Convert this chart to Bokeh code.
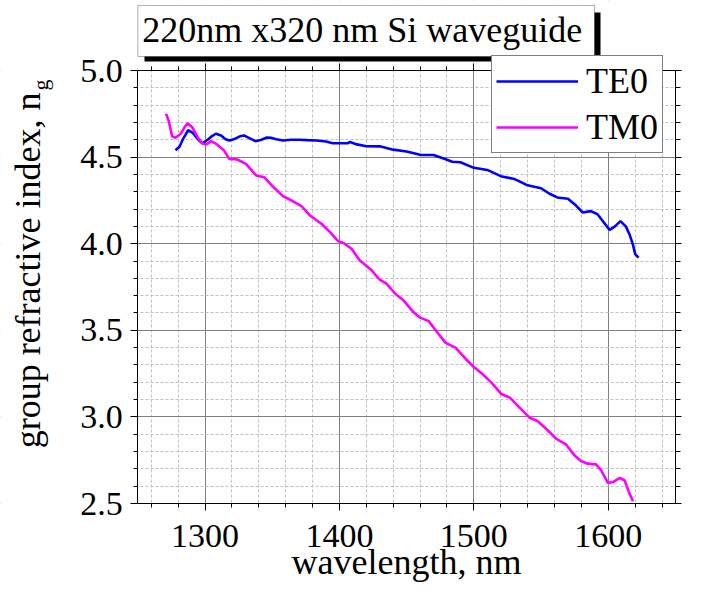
import math
from bokeh.plotting import figure
from bokeh.models import (Range1d, LinearAxis, FixedTicker, NumeralTickFormatter,
                          Label, Legend, LegendItem, BoxAnnotation)
from bokeh.embed import file_html
from bokeh.resources import INLINE

# ---- data ----
te0_wl = [1278, 1281, 1284, 1287.5, 1291, 1295, 1298, 1302, 1305, 1308, 1312, 1315, 1318,
          1322, 1326, 1329, 1333, 1337.5, 1342, 1346, 1349, 1353, 1358, 1364, 1370, 1376,
          1383, 1390, 1395, 1400, 1406, 1408, 1412, 1420, 1430, 1440, 1450, 1460, 1470,
          1478, 1484, 1490, 1500, 1510, 1520, 1530, 1540, 1550, 1556, 1562, 1570, 1576,
          1581, 1587, 1592, 1596, 1601, 1605, 1609, 1613, 1616, 1618.5, 1620, 1622.5]
te0_ng = [4.54, 4.56, 4.61, 4.655, 4.64, 4.60, 4.58, 4.60, 4.62, 4.635, 4.625, 4.605, 4.596,
          4.605, 4.62, 4.625, 4.61, 4.592, 4.60, 4.613, 4.612, 4.603, 4.596, 4.60, 4.60, 4.598,
          4.596, 4.59, 4.58, 4.58, 4.58, 4.587, 4.575, 4.563, 4.562, 4.543, 4.532, 4.513, 4.512,
          4.49, 4.473, 4.47, 4.438, 4.426, 4.39, 4.374, 4.337, 4.32, 4.29, 4.267, 4.26, 4.22,
          4.18, 4.188, 4.17, 4.13, 4.08, 4.10, 4.13, 4.10, 4.05, 3.99, 3.94, 3.92]

tm0_wl = [1271, 1273, 1275.5, 1278, 1282, 1285, 1287, 1290.5, 1294.5, 1298, 1301, 1304.5,
          1308, 1314, 1318, 1324, 1330.5, 1338, 1344, 1350.5, 1358, 1365.5, 1372, 1378,
          1386.7, 1393, 1399, 1403, 1409, 1415, 1424, 1430, 1435, 1441.5, 1447.7, 1455,
          1460, 1466.4, 1472.6, 1478.8, 1486.3, 1493.8, 1500, 1507.5, 1513.8, 1520.5, 1527,
          1532.4, 1541.5, 1547.4, 1554.9, 1561.1, 1568.5, 1574.8, 1579.7, 1584.7, 1590.9,
          1594.7, 1599.7, 1603.4, 1608.4, 1612.1, 1615.8, 1618.4]
tm0_ng = [4.75, 4.71, 4.62, 4.612, 4.635, 4.675, 4.696, 4.673, 4.615, 4.578, 4.573, 4.592,
          4.578, 4.54, 4.49, 4.486, 4.461, 4.394, 4.384, 4.33, 4.275, 4.245, 4.215, 4.163,
          4.115, 4.067, 4.015, 4.004, 3.971, 3.904, 3.846, 3.792, 3.769, 3.711, 3.673, 3.605,
          3.573, 3.553, 3.49, 3.429, 3.40, 3.336, 3.288, 3.24, 3.192, 3.132, 3.11,
          3.067, 2.995, 2.976, 2.923, 2.875, 2.842, 2.778, 2.745, 2.73, 2.726,
          2.692, 2.619, 2.624, 2.647, 2.634, 2.557, 2.513]

x_lim = [1250, 1650]
y_lim = [2.5, 5.0]
x_major = [1300, 1400, 1500, 1600]
x_minor = [1260, 1280, 1320, 1340, 1360, 1380, 1420, 1440, 1460, 1480,
           1520, 1540, 1560, 1580, 1620, 1640]
y_major = [2.5, 3.0, 3.5, 4.0, 4.5, 5.0]
y_minor = [2.6, 2.7, 2.8, 2.9, 3.1, 3.2, 3.3, 3.4, 3.6, 3.7, 3.8, 3.9,
           4.1, 4.2, 4.3, 4.4, 4.6, 4.7, 4.8, 4.9]

title_text = "220nm x320 nm Si waveguide"
x_label = "wavelength, nm"
y_label = "group refractive index, n"
y_label_sub = "g"
series_names = ["TE0", "TM0"]

FONT = "Liberation Serif"
W, H = 685, 582
# plot-area placement on the canvas (pixels)
PX_L, PX_R, PX_T, PX_B = 137.3, 675.0, 70.0, 503.0
BASE = 14  # label anchor correction (px) for alphabetic baseline

kx = (PX_R - PX_L) / (x_lim[1] - x_lim[0])
ky = (PX_B - PX_T) / (y_lim[1] - y_lim[0])
xr = Range1d(x_lim[0] - PX_L / kx, x_lim[1] + (W - PX_R) / kx)
yr = Range1d(y_lim[0] - (H - PX_B) / ky, y_lim[1] + PX_T / ky)

p = figure(width=W, height=H, output_backend="svg", toolbar_location=None,
           x_range=xr, y_range=yr, min_border=0,
           min_border_left=0, min_border_right=0, min_border_top=0, min_border_bottom=0)
p.background_fill_color = "white"
p.border_fill_color = "white"
p.outline_line_color = None


def sx(px):
    return px


def sy(py):
    return H - py


xt = FixedTicker(ticks=x_major, minor_ticks=x_minor)
yt = FixedTicker(ticks=y_major, minor_ticks=y_minor)


def style_axis(ax, ticker, show_labels, minor_out=4, major_out=7):
    ax.ticker = ticker
    ax.axis_line_color = "black"
    ax.axis_line_width = 1
    ax.major_tick_line_color = "black"
    ax.minor_tick_line_color = "black"
    ax.major_tick_in = 0
    ax.major_tick_out = major_out
    ax.minor_tick_in = 0
    ax.minor_tick_out = minor_out
    ax.major_label_text_font = FONT
    if show_labels:
        ax.major_label_text_font_size = "34px"
        ax.major_label_text_color = "black"
    else:
        ax.major_label_text_font_size = "0px"
        ax.major_label_text_color = None
        ax.major_label_standoff = 0


xa = p.xaxis[0]
ya = p.yaxis[0]
style_axis(xa, xt, True)
style_axis(ya, yt, True)
xa.fixed_location = y_lim[0]
ya.fixed_location = x_lim[0]
xa.bounds = tuple(x_lim)
ya.bounds = tuple(y_lim)
xa.major_label_standoff = 14
ya.major_label_standoff = 8
ya.formatter = NumeralTickFormatter(format="0.0")
xa.formatter = NumeralTickFormatter(format="0")

top_ax = LinearAxis(fixed_location=y_lim[1], bounds=tuple(x_lim))
style_axis(top_ax, xt, False)
p.add_layout(top_ax, "above")
right_ax = LinearAxis(fixed_location=x_lim[1], bounds=tuple(y_lim))
style_axis(right_ax, yt, False, minor_out=5, major_out=6)
p.add_layout(right_ax, "right")

p.xgrid[0].ticker = xt
p.ygrid[0].ticker = yt
for g in (p.xgrid[0], p.ygrid[0]):
    g.grid_line_color = "#808080"
    g.grid_line_width = 1
    g.minor_grid_line_color = "#c0c0c0"
    g.minor_grid_line_width = 1
    g.minor_grid_line_dash = "3 2"

# white masks outside the plotting area (hide grid lines there)
for kw in (dict(right=x_lim[0]), dict(left=x_lim[1]),
           dict(bottom=y_lim[1], left=x_lim[0], right=x_lim[1]),
           dict(top=y_lim[0], left=x_lim[0], right=x_lim[1])):
    p.add_layout(BoxAnnotation(fill_color="white", fill_alpha=1, line_color=None,
                               level="underlay", **kw))

r_te = p.line(te0_wl, te0_ng, line_color="#0000ff", line_width=2.6)
r_tm = p.line(tm0_wl, tm0_ng, line_color="#ff00ff", line_width=2.6)

legend = Legend(items=[LegendItem(label=series_names[0], renderers=[r_te]),
                       LegendItem(label=series_names[1], renderers=[r_tm])],
                location=(sx(491), sy(153)))
legend.label_text_font = FONT
legend.label_text_font_size = "36px"
legend.label_text_color = "black"
legend.glyph_width = 82
legend.glyph_height = 40
legend.label_height = 40
legend.label_standoff = 8
legend.padding = 4
legend.spacing = 4
legend.margin = 0
legend.border_line_color = "black"
legend.border_line_width = 1
legend.background_fill_color = "white"
legend.background_fill_alpha = 1
p.add_layout(legend, "center")

# title with drop shadow (drawn over the legend corner, as in the original)
p.add_layout(BoxAnnotation(left=sx(144), right=sx(600), top=sy(12), bottom=sy(61),
                           left_units="screen", right_units="screen",
                           top_units="screen", bottom_units="screen",
                           fill_color="black", fill_alpha=1, line_color=None,
                           level="overlay"))
p.add_layout(BoxAnnotation(left=sx(137.3), right=sx(594), top=sy(5), bottom=sy(56),
                           left_units="screen", right_units="screen",
                           top_units="screen", bottom_units="screen",
                           fill_color="white", fill_alpha=1, line_color="black",
                           line_width=1, level="overlay"))
p.add_layout(Label(x=sx(141.7), y=sy(43 - BASE), x_units="screen", y_units="screen",
                   text=title_text, text_font=FONT, text_font_size="36px",
                   text_color="black", text_align="left", text_baseline="alphabetic",
                   level="overlay"))

p.add_layout(Label(x=sx(406), y=sy(575 - BASE), x_units="screen", y_units="screen",
                   text=x_label, text_font=FONT, text_font_size="36px",
                   text_color="black", text_align="center", text_baseline="alphabetic"))
p.add_layout(Label(x=sx(41.7 - BASE), y=sy(92), x_units="screen", y_units="screen",
                   text=y_label, text_font=FONT, text_font_size="36px",
                   text_color="black", text_align="right", text_baseline="alphabetic",
                   angle=math.pi / 2))
p.add_layout(Label(x=sx(52 - BASE + 2), y=sy(90), x_units="screen", y_units="screen",
                   text=y_label_sub, text_font=FONT, text_font_size="22px",
                   text_color="black", text_align="left", text_baseline="alphabetic",
                   angle=math.pi / 2))

open("out.html", "w").write(file_html(p, INLINE))
